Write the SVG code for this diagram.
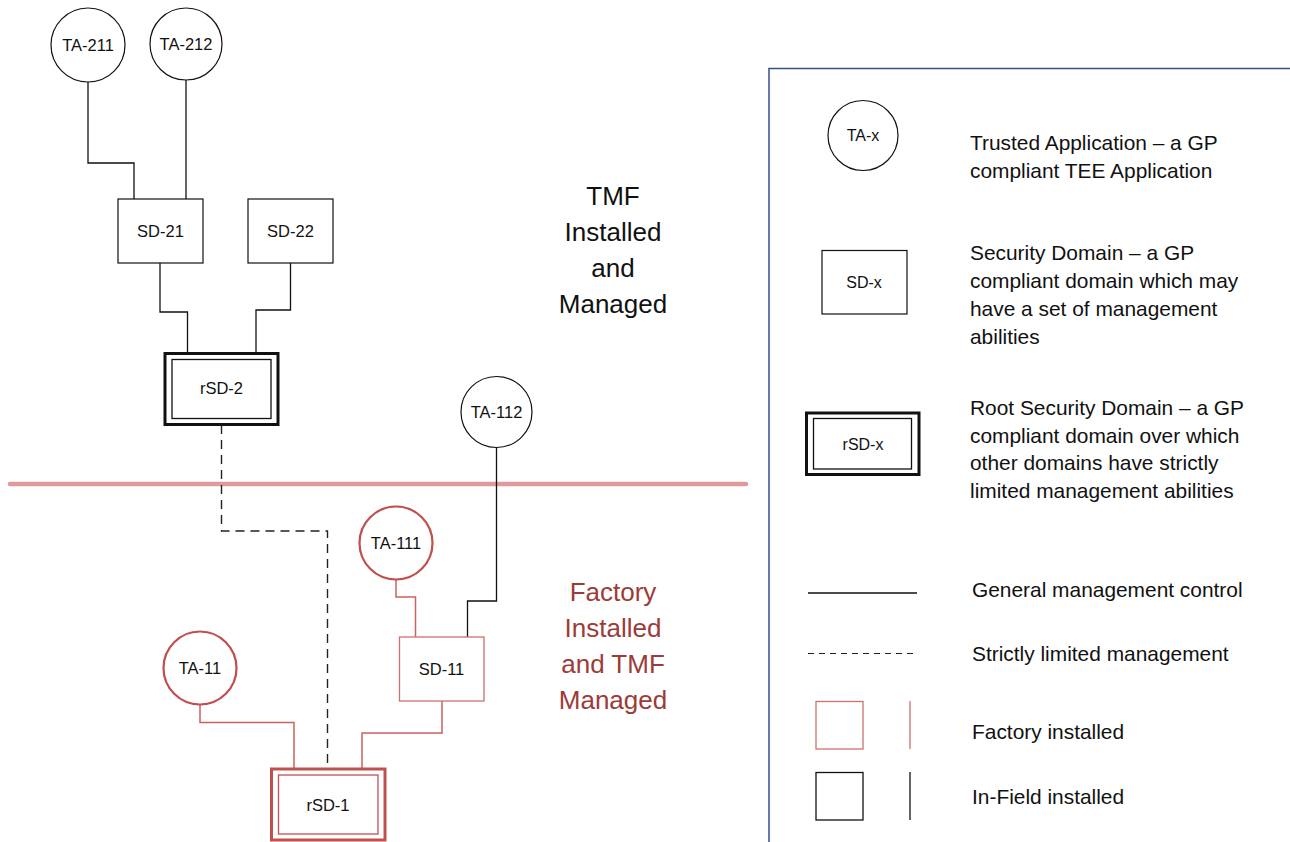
<svg xmlns="http://www.w3.org/2000/svg" width="1290" height="842" viewBox="0 0 1290 842">
<style>
.lbl{font-family:"Liberation Sans",Arial,sans-serif;font-size:16.5px;fill:#111;text-anchor:middle}
.lg{font-family:"Liberation Sans",Arial,sans-serif;font-size:16px;fill:#111;text-anchor:middle}
.txt{font-family:"Liberation Sans",Arial,sans-serif;font-size:20.9px;fill:#111}
.big{font-family:"Liberation Sans",Arial,sans-serif;font-size:26px;text-anchor:middle}
.bn{fill:#fff;stroke:#111;stroke-width:1.2}
.bthick{fill:#fff;stroke:#111;stroke-width:3}
.bin{fill:none;stroke:#111;stroke-width:1.3}
.rn{fill:#fff;stroke:#C0504D;stroke-width:2.2}
.rr{fill:#fff;stroke:#D0706D;stroke-width:1.3}
.rthick{fill:#fff;stroke:#C0504D;stroke-width:3}
.rin{fill:none;stroke:#C0504D;stroke-width:1.3}
.c{fill:none;stroke:#111;stroke-width:1.3}
.cr{fill:none;stroke:#CB625F;stroke-width:1.5}
.cd{fill:none;stroke:#222;stroke-width:1.4;stroke-dasharray:9,6}
</style>
<rect width="1290" height="842" fill="#fff"/>
<!-- divider -->
<line x1="10" y1="484" x2="746" y2="484" stroke="#DF9B9B" stroke-width="4.5" stroke-linecap="round"/>
<!-- legend border -->
<path d="M769 842 V68.5 H1290" fill="none" stroke="#34508E" stroke-width="1.5"/>
<g id="connectors">
<path class="c" d="M88 82 V163 H134 V199"/>
<path class="c" d="M186 80 V199"/>
<path class="c" d="M160 263 V312 H187.5 V353"/>
<path class="c" d="M290.5 263 V310 H256 V353"/>
<path class="cd" d="M221.5 425 V531 H327.5 V768"/>
<path class="c" d="M496.5 448 V601 H467.5 V637"/>
<path class="cr" d="M396 580 V597 H415.5 V637"/>
<path class="cr" d="M442 701 V733 H362 V768"/>
<path class="cr" d="M200 704 V722.5 H294 V768"/>
</g>
<g id="TA-211"><circle class="bn" cx="88" cy="45" r="37"/><text class="lbl" x="88" y="51">TA-211</text></g>
<g id="TA-212"><circle class="bn" cx="186" cy="44" r="36"/><text class="lbl" x="186" y="50">TA-212</text></g>
<g id="SD-21"><rect class="bn" x="118" y="199" width="85" height="64"/><text class="lbl" x="160.5" y="237">SD-21</text></g>
<g id="SD-22"><rect class="bn" x="248" y="199" width="85" height="64"/><text class="lbl" x="290.5" y="237">SD-22</text></g>
<g id="rSD-2"><rect class="bthick" x="165" y="353.5" width="113" height="71"/><rect class="bin" x="172" y="359.5" width="99" height="59"/><text class="lbl" x="221.5" y="394">rSD-2</text></g>
<g id="TA-112"><circle class="bn" cx="496.5" cy="412" r="35.5"/><text class="lbl" x="496.5" y="418">TA-112</text></g>
<g id="TA-111"><circle class="rn" cx="396" cy="543" r="36.5"/><text class="lbl" x="396" y="549">TA-111</text></g>
<g id="SD-11"><rect class="rr" x="399.5" y="637" width="84.5" height="64"/><text class="lbl" x="441.5" y="675">SD-11</text></g>
<g id="TA-11"><circle class="rn" cx="200" cy="668" r="36.5"/><text class="lbl" x="200" y="674">TA-11</text></g>
<g id="rSD-1"><rect class="rthick" x="271.5" y="769" width="113.5" height="71"/><rect class="rin" x="278.5" y="775" width="99.5" height="59"/><text class="lbl" x="328" y="811">rSD-1</text></g>
<g id="zone-labels">
<text class="big" fill="#111"><tspan x="613" y="205">TMF</tspan><tspan x="613" y="241">Installed</tspan><tspan x="613" y="277">and</tspan><tspan x="613" y="313">Managed</tspan></text>
<text class="big" fill="#9C3B38"><tspan x="613" y="601">Factory</tspan><tspan x="613" y="637">Installed</tspan><tspan x="613" y="673">and TMF</tspan><tspan x="613" y="709">Managed</tspan></text>
</g>
<g id="legend">
<circle class="bn" cx="863" cy="135.5" r="35"/><text class="lg" x="863" y="141">TA-x</text>
<text class="txt"><tspan x="970" y="150">Trusted Application – a GP</tspan><tspan x="970" y="178">compliant TEE Application</tspan></text>
<rect class="bn" x="822" y="250.5" width="85" height="63.5"/><text class="lg" x="864" y="288">SD-x</text>
<text class="txt"><tspan x="970" y="260">Security Domain – a GP</tspan><tspan x="970" y="288">compliant domain which may</tspan><tspan x="970" y="316">have a set of management</tspan><tspan x="970" y="344">abilities</tspan></text>
<rect class="bthick" x="806.5" y="413" width="112.5" height="61.5"/><rect class="bin" x="813.5" y="418.5" width="98" height="50.5"/><text class="lg" x="863" y="450">rSD-x</text>
<text class="txt"><tspan x="970" y="415">Root Security Domain – a GP</tspan><tspan x="970" y="443">compliant domain over which</tspan><tspan x="970" y="470">other domains have strictly</tspan><tspan x="970" y="498">limited management abilities</tspan></text>
<line class="c" x1="808" y1="593" x2="917" y2="593"/>
<text class="txt" x="972" y="597">General management control</text>
<line class="cd" x1="808" y1="653.5" x2="917" y2="653.5" style="stroke-dasharray:6,5;stroke-width:1.2"/>
<text class="txt" x="972" y="661">Strictly limited management</text>
<rect x="816" y="701.5" width="47" height="47.5" fill="#fff" stroke="#D0706D" stroke-width="1.3"/>
<line x1="910" y1="701" x2="910" y2="749" stroke="#D0706D" stroke-width="1.3"/>
<text class="txt" x="972" y="739">Factory installed</text>
<rect x="816" y="772.5" width="47" height="47.5" fill="#fff" stroke="#111" stroke-width="1.3"/>
<line x1="910" y1="772" x2="910" y2="820" stroke="#111" stroke-width="1.3"/>
<text class="txt" x="972" y="804">In-Field installed</text>
</g>
</svg>
